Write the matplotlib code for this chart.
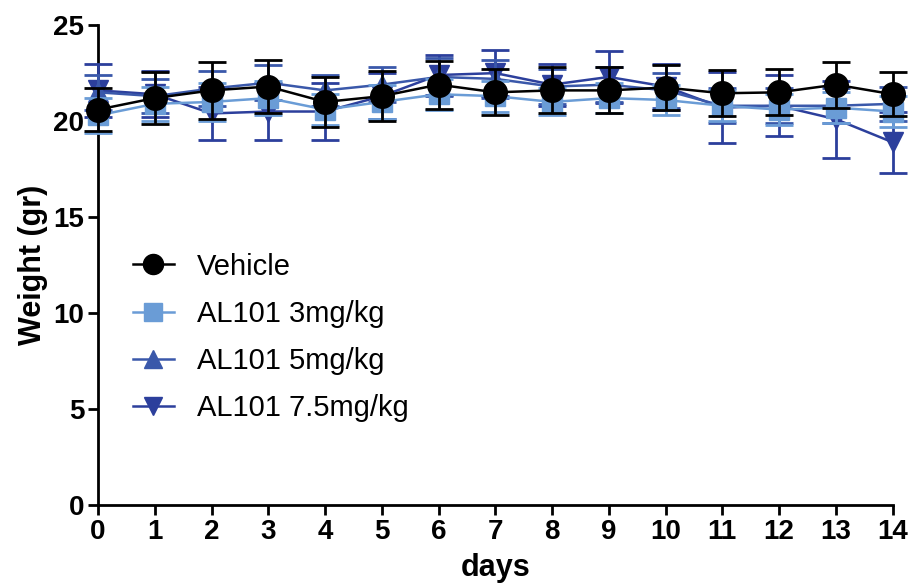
import matplotlib
matplotlib.use("Agg")
import matplotlib.pyplot as plt
from matplotlib.lines import Line2D
import numpy as np

plt.rcParams['font.family'] = ['Liberation Sans', 'DejaVu Sans']

days = np.arange(0, 15)

vehicle = [20.6, 21.2, 21.6, 21.8, 21.0, 21.3, 21.9, 21.5, 21.6, 21.6, 21.75, 21.45, 21.5, 21.9, 21.4]
vehicle_err = [1.1, 1.35, 1.5, 1.4, 1.3, 1.3, 1.25, 1.2, 1.2, 1.2, 1.15, 1.2, 1.2, 1.2, 1.15]

al3 = [20.3, 20.9, 21.0, 21.2, 20.6, 21.0, 21.4, 21.3, 21.0, 21.2, 21.1, 20.8, 20.6, 20.7, 20.5]
al3_err = [0.9, 0.9, 1.0, 0.9, 0.8, 0.9, 0.8, 0.8, 0.7, 0.8, 0.8, 0.8, 0.8, 0.8, 0.8]

al5 = [21.5, 21.3, 21.7, 22.0, 21.6, 21.9, 22.3, 22.2, 21.8, 21.9, 21.6, 20.8, 20.8, 20.8, 20.9]
al5_err = [0.9, 0.9, 0.9, 0.9, 0.8, 0.9, 1.0, 1.0, 0.9, 0.9, 0.9, 0.9, 0.9, 0.9, 0.9]

al75 = [21.6, 21.4, 20.4, 20.5, 20.5, 21.3, 22.4, 22.5, 21.9, 22.3, 21.8, 20.7, 20.8, 20.1, 18.9]
al75_err = [1.4, 1.2, 1.4, 1.5, 1.5, 1.2, 1.05, 1.2, 1.1, 1.35, 1.2, 1.85, 1.6, 2.0, 1.6]

series = [
    ("Vehicle", vehicle, vehicle_err, "black", "o", 17),
    ("AL101 3mg/kg", al3, al3_err, "#6a9cd6", "s", 15),
    ("AL101 5mg/kg", al5, al5_err, "#3a58aa", "^", 15),
    ("AL101 7.5mg/kg", al75, al75_err, "#2c3f9c", "v", 15),
]

fig = plt.figure(figsize=(9.08, 5.84), dpi=100)
ax = fig.add_axes([0.108, 0.135, 0.875, 0.822])

# back to front so Vehicle is on top
for i, (name, y, e, c, m, ms) in enumerate(reversed(series)):
    ax.errorbar(days, y, yerr=e, color=c, marker=m, markersize=ms,
                linewidth=1.8, elinewidth=2, capsize=10, capthick=2,
                clip_on=False, zorder=3 + i)

# legend shows only line + marker
handles = [Line2D([], [], color=c, marker=m, markersize=ms * 0.85, linewidth=1.8)
           for name, y, e, c, m, ms in series]
labels = [s[0] for s in series]
ax.legend(handles, labels, loc="lower left", bbox_to_anchor=(0.029, 0.148),
          frameon=False, fontsize=21, handlelength=1.4, handletextpad=0.8,
          labelspacing=0.66, borderaxespad=0)

ax.set_xlim(0, 14)
ax.set_ylim(0, 25)
ax.set_xticks(days)
ax.set_yticks([0, 5, 10, 15, 20, 25])
for side in ("top", "right"):
    ax.spines[side].set_visible(False)
for side in ("left", "bottom"):
    ax.spines[side].set_linewidth(2)
ax.tick_params(width=2, length=7, labelsize=20, pad=3)
for lab in ax.get_xticklabels() + ax.get_yticklabels():
    lab.set_fontweight("bold")

ax.set_xlabel("days", fontsize=22, fontweight="bold", labelpad=6)
ax.set_ylabel("Weight (gr)", fontsize=22, fontweight="bold", labelpad=4)

fig.savefig("out.png", dpi=100)
